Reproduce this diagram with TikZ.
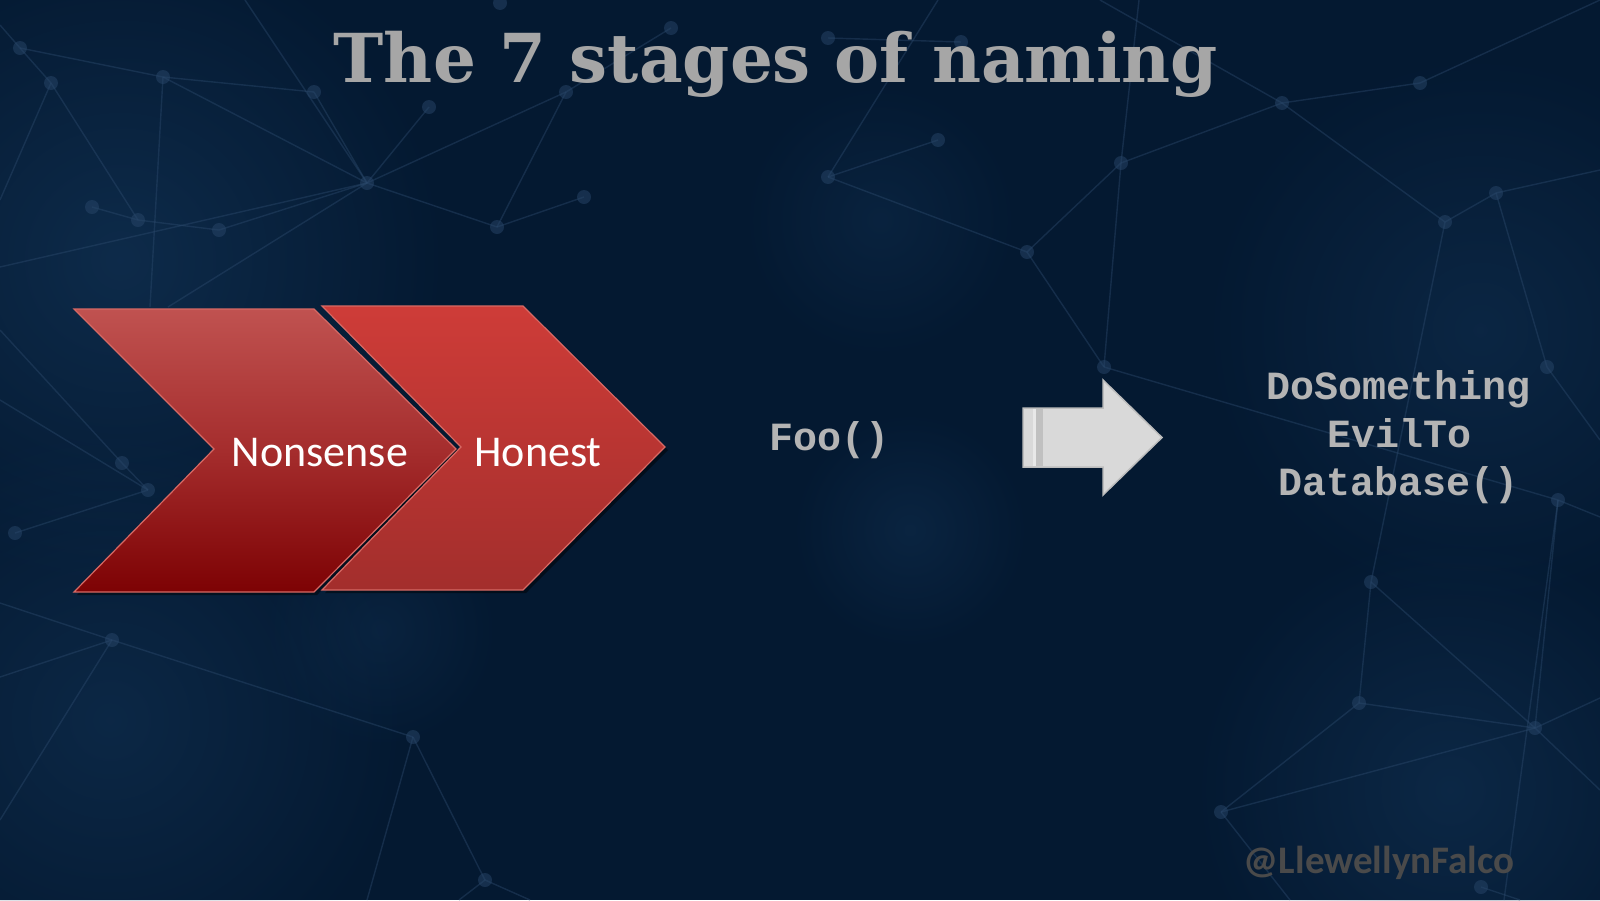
\documentclass[tikz,border=0pt]{standalone}
\usepackage{fontspec}
\usepackage{graphicx}
\usetikzlibrary{fadings,shadows}

\newfontfamily\titlefont{DejaVu Serif}
\newfontfamily\labelfont{Carlito}
\newfontfamily\codefont{Liberation Mono}

\definecolor{bgbase}{RGB}{4,25,49}
\definecolor{bgglow}{RGB}{22,58,95}
\definecolor{netline}{RGB}{45,75,110}
\definecolor{netdot}{RGB}{40,70,105}
\definecolor{titlegray}{RGB}{166,166,166}
\definecolor{codegray}{RGB}{180,180,180}
\definecolor{markgray}{RGB}{74,74,74}
\definecolor{chevAtop}{RGB}{192,82,80}
\definecolor{chevAmid}{RGB}{165,45,45}
\definecolor{chevAbot}{RGB}{125,2,4}
\definecolor{chevBtop}{RGB}{206,60,56}
\definecolor{chevBbot}{RGB}{163,46,44}
\definecolor{chevedge}{RGB}{215,105,100}
\definecolor{arrowfill}{RGB}{217,217,217}
\definecolor{arrowedge}{RGB}{188,188,188}
\definecolor{arrowband}{RGB}{192,192,192}
\definecolor{arrowline}{RGB}{232,232,232}

\tikzfading[name=softglow, inner color=transparent!0, outer color=transparent!100]

\tikzset{
  glow/.style={fill=bgglow, path fading=softglow},
  netedge/.style={draw=netline, line width=1.4pt, opacity=0.42},
  netnode/.style={fill=netdot, opacity=0.5},
  chevron/.style={draw=chevedge, line width=1.2pt,
    drop shadow={shadow xshift=3pt, shadow yshift=-3pt, opacity=0.45,
      fill=black}},
  stagelabel/.style={anchor=base, inner sep=0pt, text=white,
    font=\labelfont\fontsize{44}{52}\selectfont},
  codetext/.style={inner sep=0pt, text=codegray,
    font=\codefont\bfseries\fontsize{40}{48}\selectfont},
}

\begin{document}
\begin{tikzpicture}[x=1pt,y=-1pt]
\useasboundingbox (0,0) rectangle (1600,900);

% background
\fill[bgbase] (0,0) rectangle (1600,900);
\fill[glow, opacity=0.55] (120,260) circle (330);
\fill[glow, opacity=0.45] (110,720) circle (300);
\fill[glow, opacity=0.40] (1480,330) circle (280);
\fill[glow, opacity=0.45] (1450,790) circle (260);
\fill[glow, opacity=0.35] (910,530) circle (120);
\fill[glow, opacity=0.30] (380,630) circle (120);
\fill[glow, opacity=0.30] (880,220) circle (140);

% background network: points
\foreach \n/\x/\y in {
  n1/20/48, n2/51/83, n3/163/77, n4/314/92, n5/367/183,
  n6/429/107, n7/566/92, n8/497/227, n9/138/220, n10/92/207,
  n11/584/197, n12/500/3, n13/671/28, n14/219/230,
  n15/828/38, n16/961/42, n17/938/140, n18/828/177,
  n19/1121/163, n20/1027/252, n21/1282/103, n22/1420/83,
  n23/1445/222, n24/1496/193, n25/1104/367, n26/1547/367,
  n27/122/463, n28/148/490, n29/15/533, n30/112/640,
  n31/413/737, n32/485/880,
  n33/1371/582, n34/1359/703, n35/1535/728, n36/1221/812,
  n37/1558/500, n38/1481/887}
  \coordinate (\n) at (\x,\y);

% background network: links
\foreach \a/\b in {n1/n2, n1/n3, n2/n9, n3/n4, n3/n5, n4/n5, n5/n7, n5/n8,
  n7/n8, n6/n5, n7/n13, n9/n10, n9/n14, n14/n5, n8/n11,
  n18/n20, n20/n25, n20/n19, n19/n25, n19/n21, n21/n23, n23/n33, n25/n37,
  n17/n18, n15/n16, n21/n22, n23/n24, n24/n26,
  n27/n28, n29/n28, n30/n31, n31/n32,
  n33/n34, n33/n35, n34/n35, n34/n36, n36/n35, n37/n35}
  \draw[netedge] (\a) -- (\b);
\foreach \a/\x/\y in {n1/0/25, n2/0/200, n3/150/307, n5/0/267, n5/168/307,
  n5/245/0, n19/1139/0, n18/938/0, n21/1100/0, n22/1600/0, n24/1600/170,
  n26/1600/440, n27/0/330, n28/0/400, n30/0/603, n30/0/677, n30/0/820,
  n31/367/900, n32/530/900, n32/459/900, n36/1290/900, n35/1600/698,
  n35/1600/790, n37/1504/900, n37/1600/517, n38/1520/900}
  \draw[netedge] (\a) -- (\x,\y);
\foreach \n in {n1,n2,n3,n4,n5,n6,n7,n8,n9,n10,n11,n12,n13,n14,n15,n16,n17,
  n18,n19,n20,n21,n22,n23,n24,n25,n26,n27,n28,n29,n30,n31,n32,n33,n34,n35,
  n36,n37,n38}
  \fill[netnode] (\n) circle (7);

% title
\node[anchor=base, inner sep=0pt, text=titlegray,
  font=\titlefont\bfseries\fontsize{67.5}{74}\selectfont]
  (title) at (776,82.7) {The 7 stages of naming};

% stage chevrons
\path[chevron, top color=chevAtop, bottom color=chevAbot, middle color=chevAmid]
  (74,309) -- (314,309) -- (456,449) -- (314,592) -- (74,592) -- (214,449) -- cycle;
\path[chevron, top color=chevBtop, bottom color=chevBbot]
  (322,306) -- (523,306) -- (665,447) -- (523,590) -- (322,590) -- (461,447) -- cycle;
\node[stagelabel] (nonsense) at (320,466) {Nonsense};
\node[stagelabel] (honest) at (538,466) {Honest};

% example names
\node[codetext, anchor=base] (foo) at (829,450) {Foo()};

\draw[arrowedge, fill=arrowfill, line width=1.5pt, line join=miter]
  (1023,408) -- (1103,408) -- (1103,380) -- (1162,437.5) -- (1103,495)
  -- (1103,467) -- (1023,467) -- cycle;
\fill[arrowband] (1035.5,409) rectangle (1043,466);
\fill[arrowline] (1032.5,409) rectangle (1035.5,466);

\node[codetext, anchor=base] (l1) at (1399,399) {DoSomething};
\node[codetext, anchor=base] (l2) at (1399,447) {EvilTo};
\node[codetext, anchor=base] (l3) at (1399,495) {Database()};

% signature
\node[anchor=base, inner sep=0pt, text=markgray,
  font=\labelfont\bfseries\fontsize{39}{45}\selectfont]
  (handle) at (1379,873) {@LlewellynFalco};
\end{tikzpicture}
\end{document}
